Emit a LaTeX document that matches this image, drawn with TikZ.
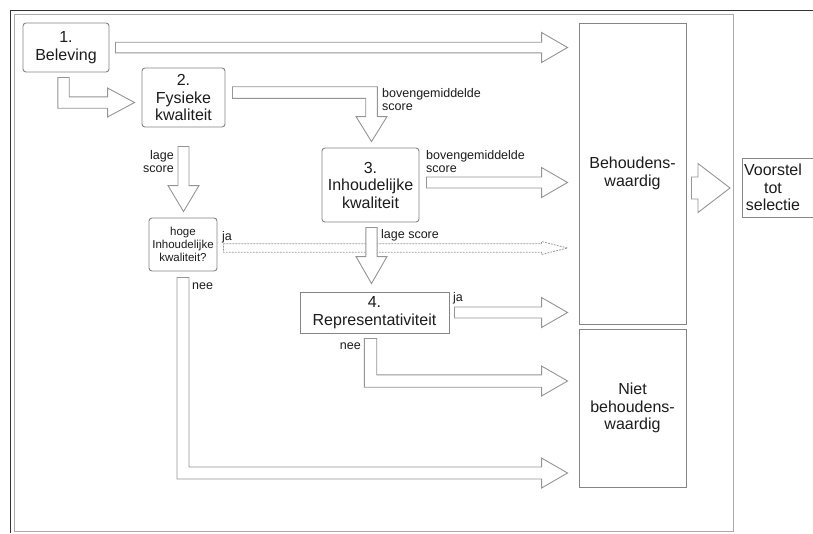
\documentclass[tikz,border=0pt]{standalone}
\usepackage{fontspec}
\setmainfont{Liberation Sans}
\usetikzlibrary{calc}
\definecolor{txt}{HTML}{1C1C1C}
\definecolor{boxline}{HTML}{858585}
\definecolor{arrline}{HTML}{959595}
\definecolor{frameline}{HTML}{AAAAAA}
\newcommand\harrow[6]{\draw[#1] let \p1=(#2), \p2=(#3) in
  (\x1,{\y1+#4pt}) -- ({\x2-#6pt},{\y1+#4pt}) -- ({\x2-#6pt},{\y1+#5pt}) -- (\x2,\y1)
  -- ({\x2-#6pt},{\y1-#5pt}) -- ({\x2-#6pt},{\y1-#4pt}) -- (\x1,{\y1-#4pt}) -- cycle;}
\newcommand\varrow[6]{\draw[#1] let \p1=(#2), \p2=(#3) in
  ({\x1-#4pt},\y1) -- ({\x1+#4pt},\y1) -- ({\x1+#4pt},{\y2+#6pt}) -- ({\x1+#5pt},{\y2+#6pt})
  -- (\x1,\y2) -- ({\x1-#5pt},{\y2+#6pt}) -- ({\x1-#4pt},{\y2+#6pt}) -- cycle;}
\newcommand\ldr[6]{\draw[#1] let \p1=(#2), \p2=(#3) in
  ({\x1-#4pt},\y1) -- ({\x1+#4pt},\y1) -- ({\x1+#4pt},{\y2+#4pt}) -- ({\x2-#6pt},{\y2+#4pt})
  -- ({\x2-#6pt},{\y2+#5pt}) -- (\x2,\y2) -- ({\x2-#6pt},{\y2-#5pt}) -- ({\x2-#6pt},{\y2-#4pt})
  -- ({\x1-#4pt},{\y2-#4pt}) -- cycle;}
\newcommand\lrd[6]{\draw[#1] let \p1=(#2), \p2=(#3) in
  (\x1,{\y1+#4pt}) -- ({\x2+#4pt},{\y1+#4pt}) -- ({\x2+#4pt},{\y2+#6pt}) -- ({\x2+#5pt},{\y2+#6pt})
  -- (\x2,\y2) -- ({\x2-#5pt},{\y2+#6pt}) -- ({\x2-#4pt},{\y2+#6pt}) -- ({\x2-#4pt},{\y1-#4pt})
  -- (\x1,{\y1-#4pt}) -- cycle;}
\begin{document}
\begin{tikzpicture}[x=1pt,y=-1pt,
  box/.style={draw=boxline, line width=0.9pt, fill=white, inner sep=0pt, align=center, text=txt,
    font=\fontsize{16}{17.5}\selectfont},
  rbox/.style={box, rounded corners=3pt},
  blk/.style={draw=arrline, line width=0.9pt, fill=white, line join=miter},
  dblk/.style={draw=arrline, line width=0.8pt, dash pattern=on 1.8pt off 1.2pt},
  lbl/.style={inner sep=0pt, text=txt, font=\fontsize{12.5}{13}\selectfont}]
\useasboundingbox (0,0) rectangle (813,533);
\clip (0,0) rectangle (813,533);
\fill[white] (0,0) rectangle (813,533);
% frames
\draw[frameline, line width=0.9pt] (14,14) rectangle (733,531.5);
\draw[black!80, line width=1.3pt] (10.5,533) -- (10.5,10.5) -- (813,10.5);
% nodes
\node[rbox, minimum width=86, minimum height=49] (b1) at (66,47.5) {1.\\Beleving};
\node[rbox, minimum width=83, minimum height=59] (b2) at (183.5,97.5) {2.\\Fysieke\\kwaliteit};
\node[rbox, minimum width=97, minimum height=74] (b3) at (370.5,185) {3.\\Inhoudelijke\\kwaliteit};
\node[rbox, minimum width=68, minimum height=53, font=\fontsize{11.5}{12.7}\selectfont] (dq) at (183,244.5) {hoge\\Inhoudelijke\\kwaliteit?};
\node[box, minimum width=149, minimum height=41] (b4) at (374.5,312.5) {4.\\Representativiteit};
\node[box, minimum width=107, minimum height=301] (beh) at (632.5,173.5) {Behoudens-\\waardig};
\node[box, minimum width=107, minimum height=158] (niet) at (632.5,408) {Niet\\behoudens-\\waardig};
\node[box, minimum width=100, minimum height=59, anchor=west] (voor) at (742,187.5) {};
\node[box, draw=none, fill=none] (voortxt) at (773,187.5) {Voorstel\\tot\\selectie};
% arrows
\harrow{blk}{$(b1.east)+(6,0)$}{$(beh.west |- b1.east)+(-11,0)$}{5.3}{15}{26}
\ldr{blk}{$(b1.south west)+(41,5)$}{$(b2.west)+(-7,5)$}{5.7}{14.5}{27}
\lrd{blk}{$(b2.east)+(7,-5)$}{$(b3.north)+(1,-6)$}{5.8}{15.5}{25}
\varrow{blk}{$(b2.south)+(0,19)$}{$(dq.north)+(0.5,-6)$}{5.5}{15.5}{26}
\harrow{blk}{$(b3.east)+(7,-2.5)$}{$(beh.west |- b3.east)+(-11,0)$}{5.5}{15}{26}
\harrow{dblk}{$(dq.east)+(6,3.5)$}{$(beh.west |- dq.east)+(-11,0)$}{4.3}{6.5}{26}
\varrow{blk}{$(b3.south)+(1,5)$}{$(b4.north)+(-3,-8)$}{5.6}{15.5}{27}
\harrow{blk}{$(b4.east)+(5,0)$}{$(beh.west |- b4.east)+(-11,0)$}{5.5}{15}{26}
\ldr{blk}{$(b4.south)+(-4,5)$}{$(niet.west)+(-11,-27)$}{6.2}{15}{26}
\ldr{blk}{$(dq.south)+(0,6)$}{$(niet.west)+(-11,65)$}{6}{15}{26}
\harrow{blk}{$(beh.east)+(5,14.5)$}{$(voor.west)+(-12,0)$}{11}{24.5}{32}
% labels
\node[lbl, anchor=west, align=left] at (382,99.5) {bovengemiddelde\\score};
\node[lbl, anchor=west, align=left] at (426,161.5) {bovengemiddelde\\score};
\node[lbl, anchor=east, align=right] at (174,161.5) {lage\\score};
\node[lbl, anchor=west] at (222,237) {ja};
\node[lbl, anchor=west] at (381,235) {lage score};
\node[lbl, anchor=west] at (192,286) {nee};
\node[lbl, anchor=west] at (453,298) {ja};
\node[lbl, anchor=east] at (361,346) {nee};
\end{tikzpicture}
\end{document}
